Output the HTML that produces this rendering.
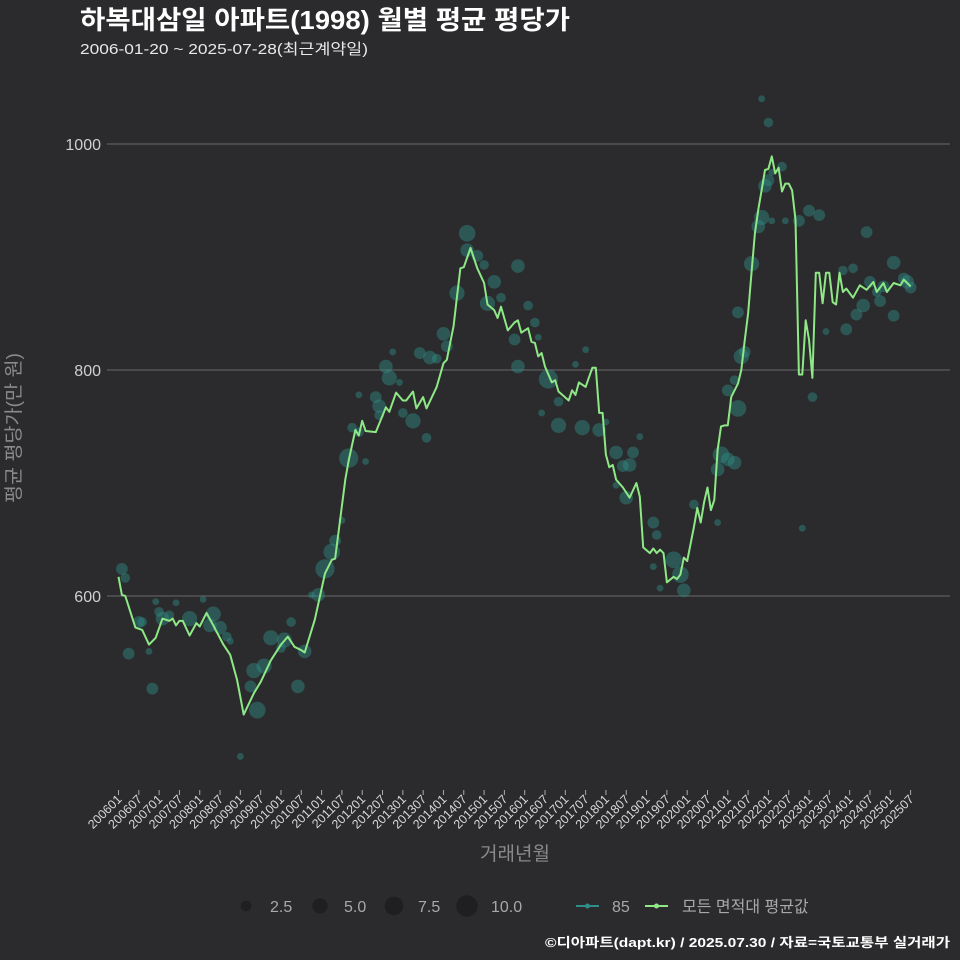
<!DOCTYPE html>
<html><head><meta charset="utf-8">
<style>
html,body{margin:0;padding:0;background:#2b2b2d;}
svg{display:block;font-family:"Liberation Sans","Noto Sans CJK KR",sans-serif;}
</style></head>
<body>
<svg id="chart" width="960" height="960" viewBox="0 0 960 960">
<rect x="0" y="0" width="960" height="960" fill="#2b2b2d"/>
<text x="80" y="29" fill="#ffffff" font-size="26" font-weight="bold" textLength="490" lengthAdjust="spacingAndGlyphs">하복대삼일 아파트(1998) 월별 평균 평당가</text>
<text x="80" y="54" fill="#e8e8e8" font-size="15" textLength="288" lengthAdjust="spacingAndGlyphs">2006-01-20 ~ 2025-07-28(최근계약일)</text>
<g id="grid"></g>
<g id="bubbles"></g>
<g id="line"></g>
<g id="yticks"></g>
<g id="xticks"></g>
<text x="0" y="0" transform="translate(20,428) rotate(-90)" text-anchor="middle" fill="#8a8a8a" font-size="19" textLength="150" lengthAdjust="spacingAndGlyphs">평균 평당가(만 원)</text>
<text x="515" y="860" text-anchor="middle" fill="#8a8a8a" font-size="19">거래년월</text>
<g id="legend"></g>
<text x="950" y="947" text-anchor="end" fill="#ffffff" font-size="13" font-weight="bold" textLength="405" lengthAdjust="spacingAndGlyphs">©디아파트(dapt.kr) / 2025.07.30 / 자료=국토교통부 실거래가</text>
</svg>
<script>
const yTicks = [600, 800, 1000];
const xTickLabels = [];
for (let yr = 2006; yr <= 2025; yr++) { xTickLabels.push(yr + "01"); xTickLabels.push(yr + "07"); }
const lineMonths = [0,1,2,5,7,9,11,13,15,16,17,18,19,21,23,24,26,28,31,33,35,37,40,42,45,48,50,52,54,55,58,61,63,64,67,68,70,71,72,73,76,79,80,82,84,85,87,88,90,91,94,96,97,99,100,101,102,104,106,108,109,111,112,113,115,117,118,119,121,122,123,124,125,126,128,129,130,133,134,135,136,138,140,141,142,143,144,145,146,147,149,151,153,154,155,157,158,159,160,161,162,164,165,166,167,168,170,171,172,173,174,175,176,177,178,179,180,181,183,184,185,186,187,188,189,190,191,192,193,194,195,196,197,198,199,200,201,202,203,204,205,206,207,208,209,210,211,212,213,214,215,217,219,221,223,224,226,227,229,231,232,234];
const lineValues = [617,601,600,572,570,557,563,580,578,580,574,578,578,565,576,573,585,574,557,548,526,495,514,524,543,557,564,555,552,550,579,620,632,633,703,720,747,742,755,746,745,767,763,780,773,773,781,766,776,766,785,806,809,839,865,890,891,908,890,877,858,853,846,856,835,842,844,833,837,825,824,812,815,803,789,791,781,773,782,778,789,785,802,802,762,762,725,714,716,703,696,687,700,688,643,638,642,638,641,638,612,617,615,619,634,631,661,678,665,683,696,676,685,729,750,751,751,776,788,800,826,850,886,921,942,959,977,978,989,974,979,958,965,965,959,933,796,796,844,827,793,886,886,859,886,886,860,858,886,869,872,864,875,871,878,869,877,869,877,875,880,874];
const bubbleMonths = [1,2,3,6,7,9,10,11,12,13,15,17,21,25,27,28,30,32,33,36,39,41,40,43,45,48,49,51,53,55,57,59,61,63,64,66,68,69,71,71,73,76,77,77,79,80,81,83,84,87,89,91,92,94,96,97,100,103,103,106,108,111,109,113,118,117,118,121,123,124,127,125,130,130,135,137,138,142,144,147,149,151,152,154,147,150,158,159,158,160,164,166,167,170,177,177,178,180,182,180,183,182,184,185,183,187,189,190,191,192,193,192,190,193,196,197,201,204,207,205,202,209,214,217,221,215,218,220,224,225,226,229,229,232,233,234,222];
const bubbleValues = [624,616,549,577,577,551,518,595,586,580,583,594,580,597,574,584,572,564,560,458,520,499,534,538,563,554,561,577,520,551,601,601,624,639,649,667,722,749,745,778,719,776,760,768,803,793,816,789,762,755,815,740,811,810,832,821,868,921,906,901,893,878,859,864,803,827,892,857,842,829,792,762,772,751,805,749,818,747,754,727,715,716,727,741,698,687,665,654,626,607,632,619,605,681,665,712,725,721,718,782,766,791,812,816,851,894,927,935,963,968,975,1019,1040,932,980,932,932,941,937,776,660,834,888,890,922,836,849,857,869,861,874,895,848,881,878,873,878];
const bubbleCounts = [3,2,3,3,2,1,3,1,2,4,2,1,5,1,4,5,4,2,1,1,3,6,5,5,5,2,5,2,4,4,1,4,8,6,3,1,8,2,2,1,1,3,2,4,4,5,1,1,2,5,3,2,4,2,4,3,5,6,4,3,2,4,5,2,4,3,4,2,2,1,8,1,2,5,1,5,1,4,1,4,3,4,3,1,1,4,3,2,1,1,6,6,4,2,1,4,6,4,4,3,6,2,5,3,3,5,4,5,4,3,1,2,1,1,2,1,3,3,3,2,1,1,2,2,3,3,3,4,2,3,3,4,3,3,4,3,3];
const legendSizes = [2.5, 5.0, 7.5, 10.0];

const NS = "http://www.w3.org/2000/svg";
function xScale(m) { return 118.5 + m * 3.385; }
function yScale(v) { return 144 + (1000 - v) * 1.13; }
function rScale(c) { return 3.4 * Math.sqrt(c); }
function mk(tag, attrs, parent) {
  const e = document.createElementNS(NS, tag);
  for (const k in attrs) e.setAttribute(k, attrs[k]);
  parent.appendChild(e);
  return e;
}
const grid = document.getElementById("grid");
const yt = document.getElementById("yticks");
yTicks.forEach(v => {
  const l = mk("line", {x1:107, x2:950, y1:yScale(v), y2:yScale(v), stroke:"#6a6a6a", "stroke-width":1}, grid);
  
  
  const t = mk("text", {x:101, y:yScale(v)+6, "text-anchor":"end", fill:"#cfcfcf", "font-size":"16"}, yt);
  t.textContent = v;
  
  
});
const xt = document.getElementById("xticks");
xTickLabels.forEach((lab, i) => {
  const x = xScale(i * 6);
  const tk = mk("line", {x1:x, x2:x, y1:790, y2:795, stroke:"#aaaaaa", "stroke-width":1}, xt);
  
  
  const t = mk("text", {x:0, y:0, transform:"translate(" + (x+4) + ",800) rotate(-45)", "text-anchor":"end", fill:"#d8d8d8", "font-size":"12.5"}, xt);
  t.textContent = lab;
  
  
});
const bg = document.getElementById("bubbles");
bubbleMonths.forEach((m, i) => {
  const c = mk("circle", {cx:xScale(m), cy:yScale(bubbleValues[i]), r:rScale(bubbleCounts[i]), fill:"#2f8f88", "fill-opacity":"0.45"}, bg);
  
  
});
const lg = document.getElementById("line");
const pts = lineMonths.map((m, i) => xScale(m).toFixed(1) + "," + yScale(lineValues[i]).toFixed(1)).join(" ");
const pl = mk("polyline", {points:pts, fill:"none", stroke:"#8ee886", "stroke-width":2, "stroke-linejoin":"round"}, lg);



const leg = document.getElementById("legend");
const lx = [246, 320, 394, 467];
legendSizes.forEach((s, i) => {
  const c = mk("circle", {cx:lx[i], cy:906, r:rScale(s), fill:"#1f1f21"}, leg);
  
  
  const t = mk("text", {x:lx[i] + 24, y:912, fill:"#a8a8a8", "font-size":"16"}, leg);
  t.textContent = s.toFixed(1);
  
  
});
const l1 = mk("line", {x1:576, x2:599, y1:906, y2:906, stroke:"#2f8f88", "stroke-width":2}, leg);


const c1 = mk("circle", {cx:587.5, cy:906, r:2.5, fill:"#2f8f88"}, leg);


const t1 = mk("text", {x:612, y:912, fill:"#a8a8a8", "font-size":"16"}, leg);
t1.textContent = "85";


const l2 = mk("line", {x1:645, x2:668, y1:906, y2:906, stroke:"#8ee886", "stroke-width":2}, leg);


const c2 = mk("circle", {cx:656.5, cy:906, r:2.5, fill:"#8ee886"}, leg);


const t2 = mk("text", {x:682, y:912, fill:"#a8a8a8", "font-size":"16"}, leg);
t2.textContent = "모든 면적대 평균값";


</script>
</body></html>
